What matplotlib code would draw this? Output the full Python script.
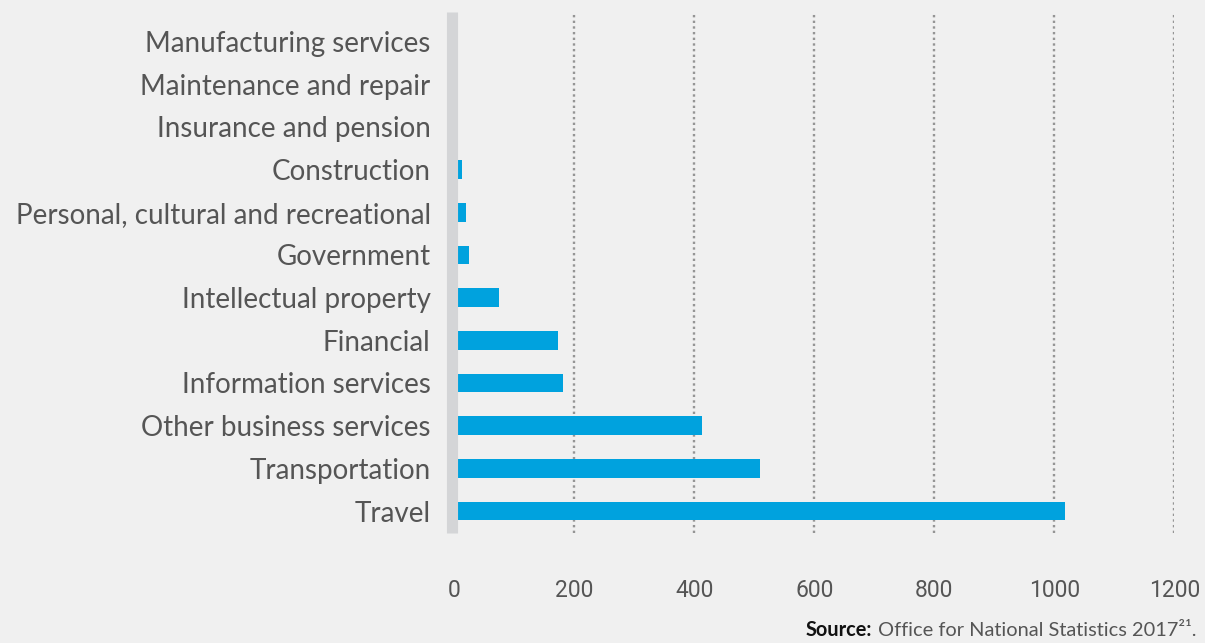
import matplotlib
matplotlib.use("Agg")
import matplotlib.pyplot as plt
from matplotlib.offsetbox import TextArea, HPacker, AnchoredOffsetbox

# Service categories, bottom to top
categories = [
    "Travel",
    "Transportation",
    "Other business services",
    "Information services",
    "Financial",
    "Intellectual property",
    "Government",
    "Personal, cultural and recreational",
    "Construction",
    "Insurance and pension",
    "Maintenance and repair",
    "Manufacturing services",
]
values = [1017, 510, 413, 181, 173, 74, 25, 20, 13, 0, 0, 0]
xticks = [0, 200, 400, 600, 800, 1000, 1200]

BG = "#f0f0f0"
BAR = "#00a2de"
TEXT = "#555555"

fig = plt.figure(figsize=(12.05, 6.43), dpi=100, facecolor=BG)
W, H = 1205, 643
x0, x1 = 454.3, 1174.3
ytop, ybot = 12, 533
ax = fig.add_axes([x0 / W, (H - ybot) / H, (x1 - x0) / W, (ybot - ytop) / H])
ax.set_facecolor(BG)

pos = list(range(len(categories)))
ax.barh(pos, values, height=0.44, color=BAR, zorder=2)

ax.set_xlim(0, 1200)
ax.set_ylim(-0.515, 11.69)

# Dotted vertical gridlines (not at zero)
for t in xticks[1:]:
    ax.axvline(t, color="#959595", lw=1.7, linestyle=(0, (1, 1.4)), zorder=1)

# Light grey baseline band
ax.axvline(-3, color="#d4d5d7", lw=8.0, zorder=3, solid_capstyle="butt", clip_on=False)

for s in ax.spines.values():
    s.set_visible(False)

ax.set_yticks(pos)
ax.set_yticklabels(categories, fontfamily="Lato", fontsize=20, color=TEXT)
ax.tick_params(axis="y", length=0, pad=17)

ax.set_xticks(xticks)
ax.set_xticklabels([str(t) for t in xticks], fontfamily="Roboto", fontsize=16.5, color=TEXT)
ax.tick_params(axis="x", length=0, pad=33)

# Source line, bold prefix followed by regular text
src_bold = TextArea("Source:", textprops=dict(fontfamily="Lato", fontweight="bold",
                                              fontsize=14.4, color="#111111"))
src_rest = TextArea("Office for National Statistics 2017\u00b2\u00b9.",
                    textprops=dict(fontfamily="Lato", fontsize=14.4, color=TEXT))
box = HPacker(children=[src_bold, src_rest], align="baseline", pad=0, sep=5)
anch = AnchoredOffsetbox(loc="lower right", child=box, pad=0, frameon=False,
                         bbox_to_anchor=(1197 / W, 3 / H), bbox_transform=fig.transFigure,
                         borderpad=0)
fig.add_artist(anch)

fig.savefig("out.png", dpi=100, facecolor=BG)
